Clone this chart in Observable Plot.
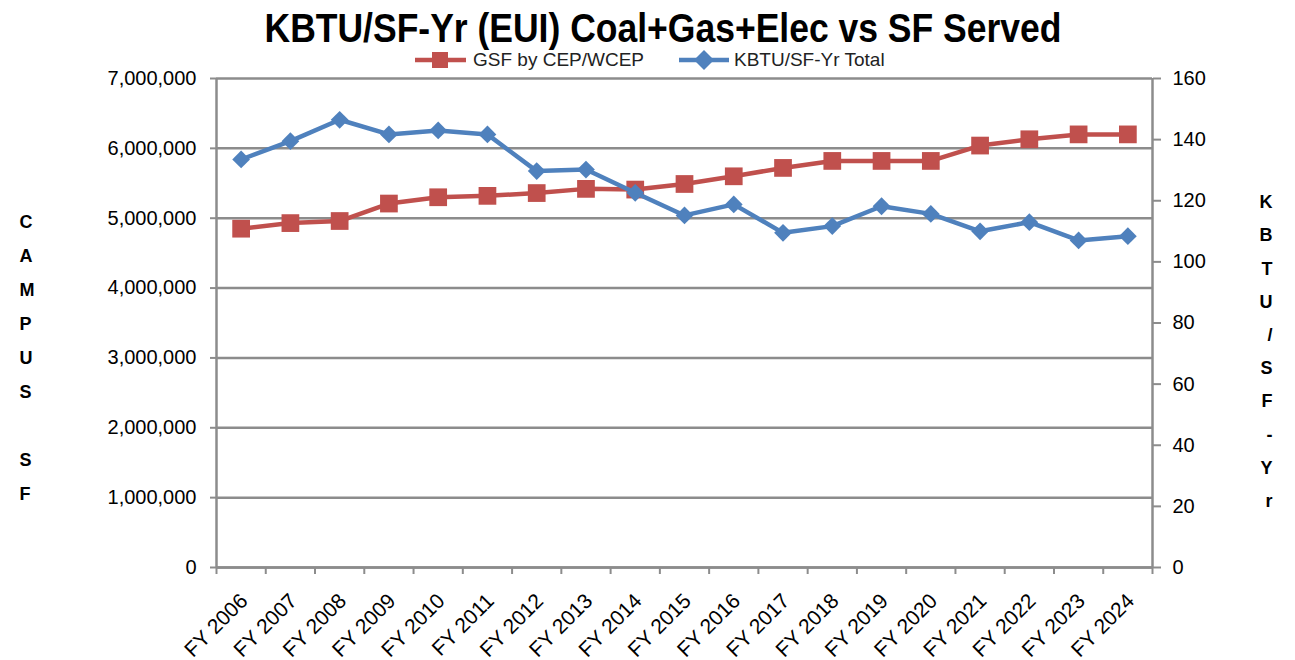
<!DOCTYPE html>
<html>
<head>
<meta charset="utf-8">
<script src="https://cdn.jsdelivr.net/npm/d3@7"></script>
<script src="https://cdn.jsdelivr.net/npm/@observablehq/plot@0.6"></script>
<style>
  html, body { margin: 0; padding: 0; background: #fff; }
  #header svg, #chart svg { display: block; overflow: visible; }
</style>
</head>
<body>
<div id="header"></div>
<div id="chart"></div>
<script>
// ---- data ----
const years = ["FY 2006","FY 2007","FY 2008","FY 2009","FY 2010","FY 2011","FY 2012","FY 2013","FY 2014","FY 2015","FY 2016","FY 2017","FY 2018","FY 2019","FY 2020","FY 2021","FY 2022","FY 2023","FY 2024"];
const gsf = [4850000,4930000,4960000,5210000,5300000,5320000,5360000,5420000,5410000,5490000,5600000,5720000,5820000,5820000,5820000,6040000,6130000,6200000,6200000];
const kbtu = [133.5,139.5,146.5,141.7,143.0,141.7,129.7,130.2,122.6,115.2,118.8,109.5,111.7,118.2,115.7,110.0,113.0,107.0,108.4];
const leftTicks = [0,1000000,2000000,3000000,4000000,5000000,6000000,7000000];
const rightTicks = [0,20,40,60,80,100,120,140,160];
const title = "KBTU/SF-Yr (EUI) Coal+Gas+Elec vs SF Served";
const seriesNames = ["GSF by CEP/WCEP","KBTU/SF-Yr Total"];
const leftTitle = "C\nA\nM\nP\nU\nS\n\nS\nF";
const rightTitle = "K\nB\nT\nU\n/\nS\nF\n-\nY\nr";

const RED = "#C0504D", BLUE = "#4F81BD", GRID = "#8c8c8c";
const FONT = "'Liberation Sans', Arial, sans-serif";
const leftMax = 7000000, rightMax = 160;
const K = leftMax / rightMax;
const idx = d3.range(years.length);

// ---- header: title + legend ----
const hdr = d3.select("#header").append("svg").attr("width", 1295).attr("height", 66);
hdr.append("text")
  .attr("x", 663).attr("y", 42)
  .attr("text-anchor", "middle")
  .attr("font-family", "'Liberation Sans Narrow', 'Arial Narrow', 'Liberation Sans', Arial, sans-serif")
  .attr("font-weight", "bold").attr("font-size", 40)
  .attr("textLength", 797).attr("lengthAdjust", "spacingAndGlyphs")
  .attr("fill", "#000")
  .text(title);
const lg = hdr.append("g");
// red entry
lg.append("line").attr("x1", 415).attr("x2", 466).attr("y1", 60).attr("y2", 60).attr("stroke", RED).attr("stroke-width", 4.5);
lg.append("rect").attr("x", 432).attr("y", 52).attr("width", 16).attr("height", 16).attr("fill", RED);
lg.append("text").attr("x", 473).attr("y", 66).attr("font-family", FONT).attr("font-size", 19).attr("fill", "#222").text(seriesNames[0]);
// blue entry
lg.append("line").attr("x1", 679).attr("x2", 729).attr("y1", 60).attr("y2", 60).attr("stroke", BLUE).attr("stroke-width", 4.5);
lg.append("path").attr("d", "M704,50L714,60L704,70L694,60Z").attr("fill", BLUE);
lg.append("text").attr("x", 734).attr("y", 66).attr("font-family", FONT).attr("font-size", 19).attr("fill", "#222").text(seriesNames[1]);

// ---- chart ----
const chart = Plot.plot({
  width: 1295,
  height: 594,
  marginLeft: 216,
  marginRight: 143,
  marginTop: 12,
  marginBottom: 93,
  style: { fontFamily: FONT, fontSize: "20px", color: "#000", background: "#fff", overflow: "visible" },
  x: { domain: [-0.5, years.length - 0.5] },
  y: { domain: [0, leftMax] },
  marks: [
    Plot.gridY(leftTicks, { stroke: GRID, strokeOpacity: 1, strokeWidth: 2.5 }),
    Plot.ruleX([-0.5, years.length - 0.5], { stroke: GRID, strokeWidth: 2.5 }),
    Plot.ruleY([0], { stroke: GRID, strokeWidth: 2.5 }),
    // category edge ticks
    Plot.axisX(d3.range(-0.5, years.length, 1), { tickSize: 7, stroke: GRID, strokeWidth: 2, tickFormat: () => "", label: null }),
    // category labels
    Plot.axisX(idx, { tickSize: 0, tickRotate: -45, tickPadding: 22, dx: 3, dy: 8, fontSize: 21, tickFormat: i => years[i], label: null, fill: "#000" }),
    // left axis
    Plot.axisY(leftTicks, { anchor: "left", tickSize: 6, tickPadding: 14, stroke: GRID, strokeWidth: 2, tickFormat: d3.format(","), label: null, fill: "#000" }),
    // right axis
    Plot.axisY(rightTicks.map(v => v * K), { anchor: "right", tickSize: 8, tickPadding: 12, stroke: GRID, strokeWidth: 2, tickFormat: d => String(Math.round(d / K)), label: null, fill: "#000" }),
    // series
    Plot.line(idx, { x: i => i, y: i => gsf[i], stroke: RED, strokeWidth: 4.5 }),
    Plot.dot(idx, { x: i => i, y: i => gsf[i], symbol: "square", fill: RED, r: 10 }),
    Plot.line(idx, { x: i => i, y: i => kbtu[i] * K, stroke: BLUE, strokeWidth: 4.5 }),
    Plot.dot(idx, { x: i => i, y: i => kbtu[i] * K, symbol: "diamond2", fill: BLUE, r: 8 }),
    // axis titles
    Plot.text([leftTitle], { text: d => d, frameAnchor: "left", dx: -197, dy: 30.5, fontWeight: "bold", fontSize: 18, lineHeight: 1.89, fill: "#000" }),
    Plot.text([rightTitle], { text: d => d, frameAnchor: "right", dx: 120, dy: 24, fontWeight: "bold", fontSize: 18, lineHeight: 1.844, fill: "#000" })
  ]
});
document.getElementById("chart").appendChild(chart);
</script>
</body>
</html>
